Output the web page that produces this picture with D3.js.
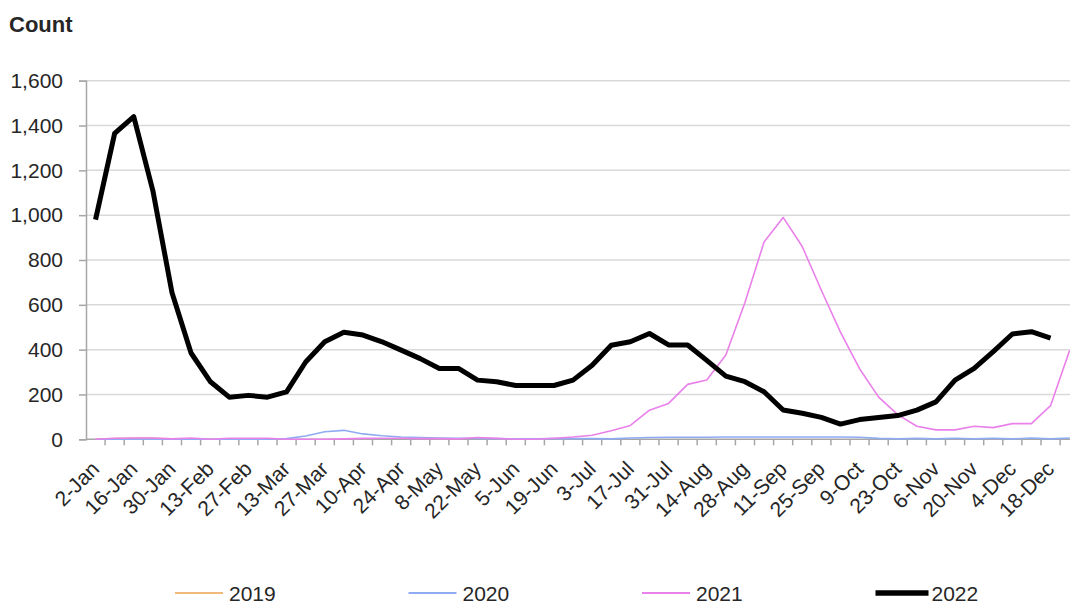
<!DOCTYPE html>
<html>
<head>
<meta charset="utf-8">
<script src="https://cdn.jsdelivr.net/npm/d3@7"></script>
<style>
  body { margin: 0; background: #fff; }
  text { font-family: "Liberation Sans", Arial, sans-serif; fill: #262626; }
</style>
</head>
<body>
<script>
// weekly categories (week starting)
var weeks = ["2-Jan","9-Jan","16-Jan","23-Jan","30-Jan","6-Feb","13-Feb","20-Feb","27-Feb","6-Mar",
  "13-Mar","20-Mar","27-Mar","3-Apr","10-Apr","17-Apr","24-Apr","1-May","8-May","15-May",
  "22-May","29-May","5-Jun","12-Jun","19-Jun","26-Jun","3-Jul","10-Jul","17-Jul","24-Jul",
  "31-Jul","7-Aug","14-Aug","21-Aug","28-Aug","4-Sep","11-Sep","18-Sep","25-Sep","2-Oct",
  "9-Oct","16-Oct","23-Oct","30-Oct","6-Nov","13-Nov","20-Nov","27-Nov","4-Dec","11-Dec",
  "18-Dec","25-Dec"];

// 2019 only shows as a trace in the first weeks, hidden under the other years
var counts2019 = [0,3,5,4,2,1];
var counts2020 = [0,0,0,0,0,0,0,0,0,0, 3,15,34,40,24,16,10,8,6,5, 4,3,2,2,3,3,3,2,6,8,
  9,9,9,10,10,10,10,10,10,10, 9,4,2,4,2,5,2,5,2,6, 2,6];
var counts2021 = [0,5,6,6,2,6,0,5,5,5, 0,0,0,2,4,5,5,3,3,2, 8,4,0,0,5,10,18,38,62,130,
  160,245,265,376,610,880,990,860,665,478, 315,188,110,58,42,42,58,52,70,70, 150,397];
var counts2022 = [980,1365,1440,1110,655,385,258,188,196,188, 212,345,435,478,465,435,398,360,316,316,
  264,257,240,240,240,264,330,420,435,472, 421,421,352,282,257,212,131,116,98,68,
  88,97,106,130,167,264,316,391,470,480, 451];

var yTicks = [0,200,400,600,800,1000,1200,1400,1600];
var seriesNames = ["2019","2020","2021","2022"];
var seriesColors = ["#f0b87a","#8fabf2","#ea80ea","#000000"];
var seriesWidths = [1.6,1.6,1.6,5];

var width = 1070, height = 603;
var plotLeft = 86, plotRight = 86 + 52 * 19.1, plotTop = 80.7, plotBottom = 439.3;

const svg = d3.select("body").append("svg")
    .attr("width", width)
    .attr("height", height);

const x = d3.scaleBand().domain(weeks).range([plotLeft, plotRight]);
const y = d3.scaleLinear().domain([0, 1600]).range([plotBottom, plotTop]);

// gridlines
svg.append("g").selectAll("line")
    .data(yTicks.filter(function (d) { return d > 0; }))
    .enter().append("line")
    .attr("x1", plotLeft).attr("x2", plotRight)
    .attr("y1", function (d) { return y(d); })
    .attr("y2", function (d) { return y(d); })
    .attr("stroke", "#d9d9d9")
    .attr("stroke-width", 1.5);

// y axis
const yAxis = svg.append("g")
    .attr("transform", "translate(" + plotLeft + ",0)")
    .call(d3.axisLeft(y).tickValues(yTicks).tickSize(7).tickPadding(16).tickFormat(d3.format(",")));
yAxis.select(".domain").attr("stroke", "#a6a6a6").attr("stroke-width", 1.5);
yAxis.selectAll(".tick line").attr("stroke", "#a6a6a6").attr("stroke-width", 1.5);
yAxis.selectAll(".tick text")
    .attr("font-size", 21)
    .attr("font-family", "Liberation Sans, Arial, sans-serif")
    .attr("fill", "#262626");

// x axis line + ticks at band edges
svg.append("line")
    .attr("x1", plotLeft).attr("x2", plotRight)
    .attr("y1", plotBottom).attr("y2", plotBottom)
    .attr("stroke", "#a6a6a6").attr("stroke-width", 1.5);
svg.append("g").selectAll("line")
    .data(weeks)
    .enter().append("line")
    .attr("x1", function (d) { return x(d) + x.bandwidth(); })
    .attr("x2", function (d) { return x(d) + x.bandwidth(); })
    .attr("y1", plotBottom).attr("y2", plotBottom + 6)
    .attr("stroke", "#a6a6a6").attr("stroke-width", 1.5);

// x labels, every second week
svg.append("g").selectAll("text")
    .data(weeks.filter(function (d, i) { return i % 2 === 0; }))
    .enter().append("text")
    .attr("text-anchor", "end")
    .attr("font-size", 21)
    .attr("transform", function (d) {
        var cx = x(d) + x.bandwidth() / 2 + 5;
        return "translate(" + cx + "," + (plotBottom + 31) + ") rotate(-45)";
    })
    .text(function (d) { return d; });

// lines
var allSeries = [counts2019, counts2020, counts2021, counts2022];
const line = d3.line()
    .x(function (d, i) { return x(weeks[i]) + x.bandwidth() / 2; })
    .y(function (d) { return y(d); });

svg.append("g").selectAll("path")
    .data(allSeries)
    .enter().append("path")
    .attr("d", function (d) { return line(d); })
    .attr("fill", "none")
    .attr("stroke", function (d, i) { return seriesColors[i]; })
    .attr("stroke-width", function (d, i) { return seriesWidths[i]; })
    .attr("stroke-linejoin", "round");

// title
svg.append("text")
    .attr("x", 9).attr("y", 32)
    .attr("font-size", 22)
    .attr("font-weight", "bold")
    .text("Count");

// legend
const legend = svg.append("g").selectAll("g")
    .data(seriesNames)
    .enter().append("g")
    .attr("transform", function (d, i) { return "translate(" + (175 + i * 233.5) + ",593)"; });
legend.append("line")
    .attr("x1", 0).attr("x2", function (d, i) { return i === 3 ? 53 : 48; })
    .attr("y1", 0).attr("y2", 0)
    .attr("stroke", function (d, i) { return seriesColors[i]; })
    .attr("stroke-width", function (d, i) { return seriesWidths[i] + 0.4; });
legend.append("text")
    .attr("x", function (d, i) { return i === 3 ? 56 : 54; })
    .attr("y", 7.5)
    .attr("font-size", 21)
    .text(function (d) { return d; });
</script>
</body>
</html>
